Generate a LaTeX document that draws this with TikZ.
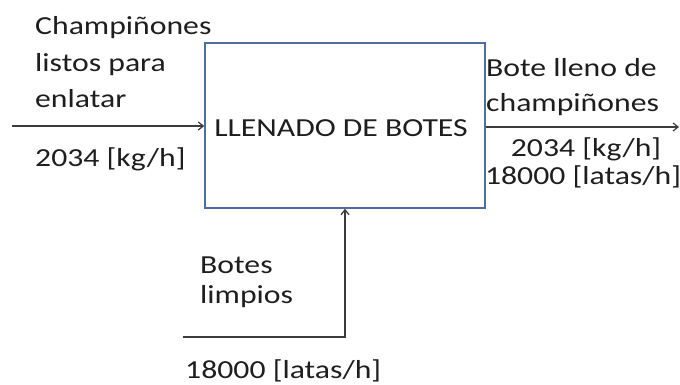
\documentclass[tikz,border=0pt]{standalone}
\usepackage{fontspec}
\setmainfont{Carlito}
\usepackage{graphicx}
\usetikzlibrary{arrows.meta}
\definecolor{boxc}{RGB}{79,110,160}
\definecolor{linec}{RGB}{60,60,60}
\definecolor{txtc}{RGB}{30,30,30}
\newcommand{\sx}[1]{\scalebox{1.22}[1]{#1}}
\tikzset{
  txt/.style={font=\fontsize{26}{36}\selectfont, text=txtc, inner sep=0pt},
  arr/.style={draw=linec, line width=1.6pt, -{Straight Barb[length=5pt,width=8pt,line width=1.2pt]}},
  procbox/.style={draw=boxc, line width=1.6pt, fill=white, minimum width=280pt, minimum height=165pt, inner sep=0pt}
}
\begin{document}
\begin{tikzpicture}[x=1pt,y=-1pt]
\useasboundingbox (0,0) rectangle (680,385);
\node[procbox] (box) at (345,125.5) {};
\node[txt, anchor=base] (boxlbl) at (341,137) {\sx{LLENADO DE BOTES}};
% input
\coordinate (inL) at (12,126);
\draw[arr] (inL) -- (inL -| box.west);
\node[txt, anchor=base west] (in1) at (35,35) {\sx{Champiñones}};
\node[txt, anchor=base west] (in2) at (35,72) {\sx{listos para}};
\node[txt, anchor=base west] (in3) at (35,108) {\sx{enlatar}};
\node[txt, anchor=base west] (in4) at (35,166) {\sx{2034 [kg/h]}};
% output
\coordinate (outR) at (679,127);
\draw[arr] (outR -| box.east) -- (outR);
\node[txt, anchor=base west] (out1) at (486,77) {\sx{Bote lleno de}};
\node[txt, anchor=base west] (out2) at (486,112) {\sx{champiñones}};
\node[txt, anchor=base] (out3) at (586,157) {\sx{2034 [kg/h]}};
\node[txt, anchor=base] (out4) at (583,184) {\sx{18000 [latas/h]}};
% bottom input
\coordinate (botL) at (183,337);
\draw[arr] (botL) -| (box.south);
\node[txt, anchor=base west] (bot1) at (200,273) {\sx{Botes}};
\node[txt, anchor=base west] (bot2) at (200,303) {\sx{limpios}};
\node[txt, anchor=base west] (bot3) at (185,378) {\sx{18000 [latas/h]}};
\end{tikzpicture}
\end{document}
